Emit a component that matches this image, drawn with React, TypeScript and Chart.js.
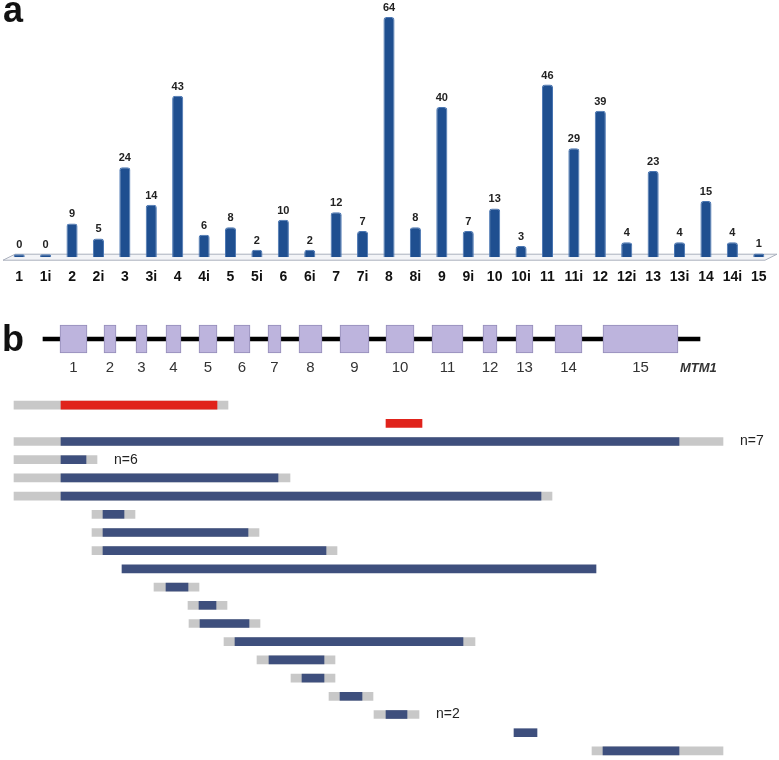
import React, { useEffect, useRef } from 'react';
import { Chart, registerables } from 'chart.js';

Chart.register(...registerables);

const FONT = "'Liberation Sans', Arial, Helvetica, sans-serif";
const NARROW = "'Liberation Sans Narrow', 'Arial Narrow', 'Liberation Sans', Arial, sans-serif";

// ---------- panel a: deletions per exon / intron ----------
const regions = ['1', '1i', '2', '2i', '3', '3i', '4', '4i', '5', '5i', '6', '6i', '7', '7i', '8', '8i', '9', '9i', '10', '10i', '11', '11i', '12', '12i', '13', '13i', '14', '14i', '15'];
const deletionCounts = [0, 0, 9, 5, 24, 14, 43, 6, 8, 2, 10, 2, 12, 7, 64, 8, 40, 7, 13, 3, 46, 29, 39, 4, 23, 4, 15, 4, 1];

// ---------- panel b: MTM1 gene model (coordinate units) ----------
const exonNames = ['1', '2', '3', '4', '5', '6', '7', '8', '9', '10', '11', '12', '13', '14', '15'];
const exonStart = [60, 104, 136, 166, 199, 234, 268, 299, 340, 386, 432, 483, 516, 555, 603];
const exonEnd = [87, 116, 147, 181, 217, 250, 281, 322, 369, 414, 463, 497, 533, 582, 678];
const geneSpan = [43, 700];
const geneName = 'MTM1';

// ---------- panel b: deletion ranges ----------
const rowIds = ['r1', 'r2', 'r3', 'r4', 'r5', 'r6', 'r7', 'r8', 'r9', 'r10', 'r11', 'r12', 'r13', 'r14', 'r15', 'r16', 'r17', 'r18', 'r19', 'r20'];
const redSpan = [[61, 217], [386, 422], null, null, null, null, null, null, null, null, null, null, null, null, null, null, null, null, null, null];
const blueSpan = [null, null, [61, 679], [61, 86], [61, 278], [61, 541], [103, 124], [103, 248], [103, 326], [122, 596], [166, 188], [199, 216], [200, 249], [235, 463], [269, 324], [302, 324], [340, 362], [386, 407], [514, 537], [603, 679]];
const flankSpan = [[14, 228], null, [14, 723], [14, 97], [14, 290], [14, 552], [92, 135], [92, 259], [92, 337], null, [154, 199], [188, 227], [189, 260], [224, 475], [257, 335], [291, 335], [329, 373], [374, 419], null, [592, 723]];
const countNotes = [
  { row: 2, text: 'n=7' },
  { row: 3, text: 'n=6' },
  { row: 17, text: 'n=2' },
];

const X_MIN = 0;
const X_MAX = 779;

export default function App() {
  const aRef = useRef<HTMLCanvasElement>(null);
  const geneRef = useRef<HTMLCanvasElement>(null);
  const rowsRef = useRef<HTMLCanvasElement>(null);

  useEffect(() => {
    const charts: Chart[] = [];

    // ----- panel a -----
    const floorPlugin = {
      id: 'floor',
      beforeDatasetsDraw(chart: any) {
        const { ctx, chartArea, scales } = chart;
        const y0 = scales.y.getPixelForValue(0);
        ctx.save();
        ctx.beginPath();
        ctx.moveTo(chartArea.left + 9, y0 - 3);
        ctx.lineTo(chartArea.right + 5, y0 - 3);
        ctx.lineTo(chartArea.right - 7, y0 + 3);
        ctx.lineTo(chartArea.left - 3, y0 + 3);
        ctx.closePath();
        ctx.fillStyle = '#f3f4f7';
        ctx.fill();
        ctx.strokeStyle = '#aab0bd';
        ctx.lineWidth = 1;
        ctx.stroke();
        ctx.restore();
      },
    };
    const valuePlugin = {
      id: 'values',
      afterDatasetsDraw(chart: any) {
        const { ctx } = chart;
        const meta = chart.getDatasetMeta(0);
        ctx.save();
        ctx.font = `bold 11px ${NARROW}`;
        ctx.fillStyle = '#222';
        ctx.textAlign = 'center';
        ctx.textBaseline = 'middle';
        meta.data.forEach((bar: any, i: number) => {
          ctx.fillText(String(deletionCounts[i]), bar.x, bar.y - 9);
        });
        ctx.restore();
      },
    };
    if (aRef.current) {
      charts.push(
        new Chart(aRef.current, {
          type: 'bar',
          data: {
            labels: regions,
            datasets: [
              {
                data: deletionCounts,
                backgroundColor: '#1f4f90',
                borderColor: '#4a76b2',
                borderWidth: 1,
                borderSkipped: 'bottom',
                borderRadius: { topLeft: 3, topRight: 3, bottomLeft: 0, bottomRight: 0 },
                barPercentage: 0.42,
                categoryPercentage: 1,
                minBarLength: 3,
              },
            ],
          },
          options: {
            responsive: false,
            animation: false,
            layout: { padding: { left: 6, right: 7, top: 2, bottom: 0 } },
            plugins: { legend: { display: false }, tooltip: { enabled: false } },
            scales: {
              x: {
                grid: { display: false, drawTicks: false },
                border: { display: false },
                ticks: {
                  autoSkip: false,
                  maxRotation: 0,
                  padding: 12,
                  color: '#111',
                  font: { family: NARROW, size: 14, weight: 'bold' },
                },
              },
              y: { display: false, min: 0, max: 68 },
            },
          },
          plugins: [floorPlugin, valuePlugin],
        } as any)
      );
    }

    // ----- panel b: gene model -----
    const exonLabelPlugin = {
      id: 'exonLabels',
      afterDatasetsDraw(chart: any) {
        const { ctx, scales } = chart;
        const yc = scales.y.getPixelForValue(0);
        ctx.save();
        ctx.fillStyle = '#333';
        ctx.textAlign = 'center';
        ctx.textBaseline = 'middle';
        ctx.font = `15px ${FONT}`;
        exonNames.forEach((name, i) => {
          const xc = scales.x.getPixelForValue((exonStart[i] + exonEnd[i]) / 2);
          ctx.fillText(name, xc, yc + 29);
        });
        ctx.textAlign = 'left';
        ctx.font = `italic bold 13px ${FONT}`;
        ctx.fillText(geneName, scales.x.getPixelForValue(geneSpan[1]) - 20, yc + 29);
        ctx.restore();
      },
    };
    if (geneRef.current) {
      const exonSets = exonNames.map((name, i) => ({
        label: 'exon ' + name,
        data: [[exonStart[i], exonEnd[i]]],
        backgroundColor: '#bdb4dd',
        borderColor: '#948cb8',
        borderWidth: 1,
        borderSkipped: false,
        barThickness: 28,
        grouped: false,
        order: 0,
      }));
      charts.push(
        new Chart(geneRef.current, {
          type: 'bar',
          data: {
            labels: [geneName],
            datasets: [
              ...exonSets,
              {
                label: 'gene',
                data: [geneSpan],
                backgroundColor: '#000',
                barThickness: 4,
                grouped: false,
                order: 1,
              },
            ],
          },
          options: {
            indexAxis: 'y',
            responsive: false,
            animation: false,
            layout: { padding: 0 },
            plugins: { legend: { display: false }, tooltip: { enabled: false } },
            scales: {
              x: { type: 'linear', display: false, min: X_MIN, max: X_MAX },
              y: { display: false },
            },
          },
          plugins: [exonLabelPlugin],
        } as any)
      );
    }

    // ----- panel b: deletion rows -----
    const notePlugin = {
      id: 'notes',
      afterDatasetsDraw(chart: any) {
        const { ctx, scales } = chart;
        ctx.save();
        ctx.fillStyle = '#222';
        ctx.textAlign = 'left';
        ctx.textBaseline = 'middle';
        ctx.font = `14px ${FONT}`;
        countNotes.forEach((n) => {
          const span = flankSpan[n.row] || blueSpan[n.row] || redSpan[n.row];
          if (!span) return;
          const x = scales.x.getPixelForValue(span[1]) + 17;
          const y = scales.y.getPixelForValue(n.row);
          ctx.fillText(n.text, x, y);
        });
        ctx.restore();
      },
    };
    if (rowsRef.current) {
      charts.push(
        new Chart(rowsRef.current, {
          type: 'bar',
          data: {
            labels: rowIds,
            datasets: [
              {
                label: 'deletion (red)',
                data: redSpan,
                backgroundColor: '#e0231b',
                barThickness: 8,
                grouped: false,
                order: 0,
              },
              {
                label: 'deletion',
                data: blueSpan,
                backgroundColor: '#3e4f7d',
                barThickness: 8,
                grouped: false,
                order: 0,
              },
              {
                label: 'breakpoint uncertainty',
                data: flankSpan,
                backgroundColor: '#c8c8c8',
                barThickness: 8,
                grouped: false,
                order: 1,
              },
            ],
          },
          options: {
            indexAxis: 'y',
            responsive: false,
            animation: false,
            layout: { padding: 0 },
            plugins: { legend: { display: false }, tooltip: { enabled: false } },
            scales: {
              x: { type: 'linear', display: false, min: X_MIN, max: X_MAX },
              y: { display: false },
            },
          },
          plugins: [notePlugin],
        } as any)
      );
    }

    return () => charts.forEach((c) => c.destroy());
  }, []);

  const panelLetter: React.CSSProperties = {
    position: 'absolute',
    fontFamily: FONT,
    fontWeight: 'bold',
    fontSize: '36px',
    lineHeight: '36px',
    color: '#111',
    margin: 0,
  };

  return (
    <div style={{ position: 'absolute', left: 0, top: 0, width: 779, height: 760, background: '#fff', overflow: 'hidden' }}>
      <canvas ref={aRef} width={779} height={298} style={{ position: 'absolute', left: 0, top: 0, display: 'block' }} />
      <canvas ref={geneRef} width={779} height={80} style={{ position: 'absolute', left: 0, top: 299, display: 'block' }} />
      <canvas ref={rowsRef} width={779} height={364} style={{ position: 'absolute', left: 0, top: 396, display: 'block' }} />
      <div style={{ ...panelLetter, left: 3, top: -8 }}>a</div>
      <div style={{ ...panelLetter, left: 2, top: 321 }}>b</div>
    </div>
  );
}
